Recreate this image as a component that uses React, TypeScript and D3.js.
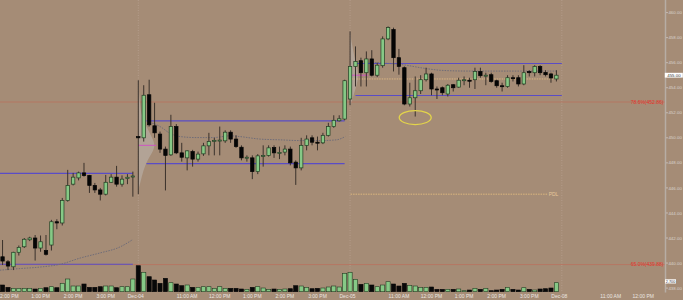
import React from "react";
import * as d3 from "d3";

const W = 683;
const H = 300;

// ---- candle data: index 0 = Dec-03 11:50 bar (10-minute bars) ----
const opens = [
  440.5, 440.1, 439.7, 440.86, 441.3, 441.86, 442.0, 441.2, 441.0, 441.44, 443.3, 443.2, 445.0, 446.3, 446.8, 447.2, 447.0, 446.2, 445.84, 445.5, 446.45, 446.86, 446.3, 446.75, 446.9,
  450.1, 450.0, 453.44, 450.96, 450.3, 449.1, 448.64, 450.9, 448.8, 448.4, 448.9, 448.3, 448.72, 449.36, 449.74, 449.8, 449.76, 450.45, 449.9, 449.25, 448.4, 448.4, 447.3, 448.56, 448.6, 449.22, 448.8, 448.86, 449.1, 448.06, 447.6, 449.4, 450.0, 449.65, 449.6, 450.2, 450.9, 451.36, 451.5,
  453.1, 455.7, 456.16, 455.2, 456.3, 455.0, 455.76, 457.9, 458.64, 456.4, 455.6, 452.7, 453.2, 453.76, 454.64, 455.1, 453.9, 454.0, 453.5, 454.24, 454.05, 454.6, 454.6, 454.64, 455.3, 454.98, 455.04, 454.56, 454.16, 454.1, 454.8, 454.8, 454.3, 455.3, 455.2, 455.7, 455.22, 455.1, 454.7,
];
const highs = [
  441.84, 440.24, 440.9, 441.4, 442.0, 442.1, 442.24, 442.2, 442.24, 443.45, 443.5, 445.2, 447.44, 447.2, 447.3, 448.0, 447.04, 446.4, 446.0, 447.04, 447.1, 447.76, 447.0, 447.1, 447.3,
  454.6, 454.2, 454.64, 452.8, 450.5, 449.3, 451.84, 451.1, 449.6, 449.0, 449.04, 448.9, 449.6, 450.4, 450.0, 450.9, 450.6, 450.6, 450.2, 449.4, 448.6, 448.6, 448.7, 449.4, 449.4, 449.4, 449.3, 449.4, 449.3, 448.2, 450.0, 450.2, 450.2, 450.1, 450.4, 451.2, 451.8, 451.8, 454.64,
  458.5, 457.3, 456.4, 456.9, 457.0, 456.0, 458.1, 458.9, 458.8, 457.1, 455.7, 454.4, 454.9, 455.0, 455.6, 455.2, 454.1, 454.1, 454.3, 454.3, 454.8, 454.9, 454.8, 455.6, 455.6, 455.2, 455.2, 454.64, 454.4, 455.0, 455.0, 455.0, 455.8, 455.4, 455.8, 455.8, 455.4, 455.2, 455.4,
];
const lows = [
  439.84, 439.44, 439.44, 440.6, 441.2, 441.75, 440.2, 440.9, 440.6, 441.0, 442.7, 443.0, 444.9, 446.2, 446.6, 446.9, 445.6, 445.6, 445.0, 445.4, 446.4, 446.1, 446.1, 446.3, 445.3,
  445.5, 449.7, 450.9, 450.0, 448.8, 445.8, 448.56, 448.7, 448.1, 447.4, 447.7, 448.1, 448.56, 448.6, 448.6, 448.6, 449.6, 449.6, 449.2, 448.2, 448.1, 446.7, 447.1, 447.7, 448.5, 448.4, 448.3, 448.6, 447.8, 446.24, 447.4, 449.0, 449.4, 449.0, 449.5, 450.1, 450.8, 451.3, 451.4,
  452.6, 454.1, 454.1, 454.1, 454.9, 454.85, 455.6, 457.8, 455.3, 455.04, 452.6, 452.5, 451.7, 453.5, 454.5, 453.4, 453.1, 453.4, 453.3, 453.7, 454.0, 454.2, 454.0, 453.9, 454.8, 454.2, 454.4, 454.0, 453.7, 454.0, 454.5, 454.1, 454.2, 454.9, 454.9, 455.0, 454.9, 454.4, 454.5,
];
const closes = [
  440.16, 439.76, 440.86, 441.25, 441.9, 442.0, 441.2, 441.7, 440.7, 443.3, 443.2, 445.0, 446.2, 446.86, 447.2, 446.98, 446.2, 445.84, 445.5, 446.45, 446.86, 446.3, 446.7, 446.85, 446.95,
  450.0, 453.4, 451.04, 450.4, 449.1, 448.6, 450.9, 448.8, 448.45, 448.96, 448.3, 448.7, 449.36, 449.7, 449.8, 449.82, 450.45, 449.9, 449.3, 448.4, 448.45, 447.3, 448.56, 448.6, 449.2, 448.8, 448.84, 449.1, 448.0, 447.6, 449.4, 449.9, 449.65, 449.62, 450.2, 450.9, 451.4, 451.52, 454.56,
  455.7, 456.1, 455.2, 456.3, 455.0, 455.8, 457.9, 458.8, 456.4, 455.7, 452.7, 453.2, 453.76, 454.64, 455.1, 453.9, 453.86, 453.6, 454.2, 454.0, 454.6, 454.64, 454.58, 455.3, 454.96, 455.0, 454.5, 454.16, 454.14, 454.8, 454.76, 454.3, 455.2, 455.2, 455.7, 455.2, 455.04, 454.78, 455.0,
];
const volumes = [
  2010, 1320, 1020, 1020, 1020, 1020, 810, 1020, 1200, 1500, 1200, 2520, 3810, 1710, 1710, 2310, 1320, 1320, 1500, 1710, 1710, 1200, 1500, 1500, 3810,
  7800, 5820, 4500, 3510, 2520, 4020, 2700, 2310, 1800, 2010, 1320, 1320, 1500, 1500, 1020, 1500, 1020, 1020, 1020, 810, 720, 1320, 1500, 1110, 720, 810, 720, 810, 900, 1800, 1710, 1320, 900, 1020, 1110, 1410, 1710, 1410, 5520,
  5820, 3720, 2220, 2520, 2010, 1500, 2010, 3000, 2310, 1710, 2520, 1920, 1710, 1320, 1320, 1410, 720, 720, 720, 720, 810, 300, 510, 1020, 720, 1020, 300, 510, 720, 1320, 720, 510, 1200, 720, 510, 810, 900, 1110, 2700,
];

// ---- axes ----
const timeTickIndex = [1, 7, 13, 19, 25, 34, 40, 46, 52, 58, 64, 73, 79, 85, 91, 97, 103, 112, 118];
const timeTickLabel = ["12:00 PM", "1:00 PM", "2:00 PM", "3:00 PM", "Dec-04", "11:00 AM", "12:00 PM", "1:00 PM", "2:00 PM", "3:00 PM", "Dec-05", "11:00 AM", "12:00 PM", "1:00 PM", "2:00 PM", "3:00 PM", "Dec-08", "11:00 AM", "12:00 PM"];
const dayStartIndex = [25, 64, 103];
const priceTicks = [438, 440, 442, 444, 446, 448, 450, 452, 454, 456, 458, 460];

// ---- overlays ----
const rangeStart = [-0.5, 26.5, 65];
const rangeEnd = [24, 63, 103];
const rangeHigh = [447.16, 451.35, 455.94];
const rangeLow = [439.9, 447.94, 453.38];

const vwapDec03 = [[-0.5, 439.43], [3.2, 439.56], [6.9, 439.68], [10.6, 439.9], [14.3, 440.4], [17.9, 440.8], [21.6, 441.28], [24, 441.88]];
const vwapDec04 = [[26.8, 450.9], [27.5, 451.16], [29, 450.9], [30.8, 450.37], [32.7, 450.1], [35.8, 450.02], [38.8, 450.02], [41.9, 450.16], [43.7, 450.1], [47.4, 449.9], [51.1, 449.84], [54.8, 449.78], [58.5, 449.78], [61.5, 449.84], [63.1, 450.1]];
const vwapDec05 = [[65.1, 456.08], [70.1, 455.97], [73.7, 455.84], [77.4, 455.57], [81.1, 455.38], [86.1, 455.33], [102.1, 455.33]];

const fibPrices = [452.86, 439.88];
const fibLabels = ["78.6%(452.86)", "65.0%(439.88)"];

const pdlPrice = 445.5;
const pdlStart = 64.1;
const pdlEnd = 100.3;
const pdlLabel = "PDL";

const refPrice = 454.7;
const refStart = 64.3;
const refEnd = 101.4;

const openMarkPrice = [449.4, 455.0];
const openMarkStart = [25, 64.3];
const openMarkEnd = [28.3, 67.3];

const profileDec04 = [[454.6, 0], [452.8, 1.5], [451.8, 3], [450.9, 8], [450.0, 14], [449.4, 17], [448.8, 14], [448.2, 9], [447.4, 5], [446.4, 2], [445.8, 0]];
const profileDec05 = [[458.5, 0], [457.4, 2], [456.2, 5], [455.4, 8], [454.6, 8], [453.8, 5], [453.0, 2], [452.6, 0]];

const markIndex = 76;
const markPrice = 451.7;

// ---- scales ----
const x = d3.scaleLinear().domain([0, 122]).range([2.55, 665]);
const y = d3.scaleLinear().domain([438, 460]).range([288.1, 12.6]);
const yv = d3.scaleLinear().domain([0, 9000]).range([291.7, 261.7]);
const profW = d3.scaleLinear().domain([0, 17]).range([0, 17]);

const BG = "#a58c76";
const GREEN = "#86c986";
const GREEN_EDGE = "#223c22";
const WICK = "#3a312b";
const BLUE = "#5a4cc6";
const FONT = "'Liberation Sans', Arial, sans-serif";

export default function App() {
  const n = closes.length;
  const idx = d3.range(n);
  const vwapLine = d3.line<number[]>().x((d) => x(d[0])).y((d) => y(d[1])).curve(d3.curveMonotoneX);

  const profileArea = (data: number[][], baseIdx: number) =>
    d3
      .area<number[]>()
      .y((d) => y(d[0]))
      .x0(() => x(baseIdx))
      .x1((d) => x(baseIdx) + profW(d[1]))
      .curve(d3.curveBasis)(data) || "";

  const lastClose = closes[n - 1];
  const lastVol = volumes[n - 1];

  return (
    <svg
      width={W}
      height={H}
      style={{ position: "absolute", left: 0, top: 0, display: "block" }}
      fontFamily={FONT}
    >
      <rect x={0} y={0} width={W} height={H} fill={BG} />

      {/* fib lines */}
      {fibPrices.map((p, k) => (
        <line key={"fib" + k} x1={0} x2={x(122)} y1={y(p)} y2={y(p)} stroke="#b9725e" strokeWidth={0.8} />
      ))}

      {/* day separators */}
      {dayStartIndex.map((d, k) => (
        <line key={"sep" + k} x1={x(d)} x2={x(d)} y1={0} y2={292} stroke="#b9a190" strokeWidth={0.8} strokeDasharray="1,1.5" />
      ))}

      {/* volume profile shading */}
      <path d={profileArea(profileDec04, dayStartIndex[0])} fill="#bdb6b0" opacity={0.55} />
      <path d={profileArea(profileDec05, dayStartIndex[1])} fill="#bdb6b0" opacity={0.55} />

      {/* volume bars */}
      {idx.map((i) => {
        const up = closes[i] > opens[i];
        const flat = closes[i] === opens[i];
        return (
          <rect
            key={"v" + i}
            x={x(i) - 2.1}
            y={yv(volumes[i])}
            width={4.2}
            height={yv(0) - yv(volumes[i])}
            fill={flat ? "#6c6c6c" : up ? GREEN : "#080808"}
            stroke={up ? GREEN_EDGE : "#080808"}
            strokeWidth={0.6}
          />
        );
      })}

      {/* opening range lines */}
      {rangeStart.map((s, k) => (
        <g key={"rng" + k}>
          <line x1={x(s)} x2={x(rangeEnd[k])} y1={y(rangeHigh[k])} y2={y(rangeHigh[k])} stroke={BLUE} strokeWidth={1.1} />
          <line x1={x(s)} x2={x(rangeEnd[k])} y1={y(rangeLow[k])} y2={y(rangeLow[k])} stroke={BLUE} strokeWidth={1.1} />
        </g>
      ))}

      {/* vwap dotted */}
      {[vwapDec03, vwapDec04, vwapDec05].map((v, k) => (
        <path key={"vw" + k} d={vwapLine(v) || ""} fill="none" stroke="#6f6c78" strokeWidth={1} strokeDasharray="1.5,1.2" />
      ))}

      {/* PDL */}
      <line x1={x(pdlStart)} x2={x(pdlEnd)} y1={y(pdlPrice)} y2={y(pdlPrice)} stroke="#dcb77e" strokeWidth={1} strokeDasharray="1.5,1" />
      <text x={x(pdlEnd) + 1.5} y={y(pdlPrice) + 1.8} fontSize={5} fill="#e6c79a">{pdlLabel}</text>

      {/* reference dotted */}
      <line x1={x(refStart)} x2={x(refEnd)} y1={y(refPrice)} y2={y(refPrice)} stroke="#e2bb86" strokeWidth={0.9} strokeDasharray="1.5,1" />

      {/* open marks */}
      {openMarkPrice.map((p, k) => (
        <line key={"om" + k} x1={x(openMarkStart[k])} x2={x(openMarkEnd[k])} y1={y(p)} y2={y(p)} stroke="#d24cc8" strokeWidth={0.9} />
      ))}

      {/* wicks */}
      {idx.map((i) => (
        <line key={"w" + i} x1={x(i)} x2={x(i)} y1={y(highs[i])} y2={y(lows[i])} stroke={WICK} strokeWidth={1} />
      ))}
      {/* bodies */}
      {idx.map((i) => {
        const up = closes[i] >= opens[i];
        const top = y(Math.max(opens[i], closes[i]));
        const bot = y(Math.min(opens[i], closes[i]));
        const h = Math.max(1, bot - top);
        return (
          <rect
            key={"b" + i}
            x={x(i) - 1.7}
            y={top}
            width={3.4}
            height={h}
            fill={up ? GREEN : "#050505"}
            stroke={up ? GREEN_EDGE : "#050505"}
            strokeWidth={0.7}
          />
        );
      })}

      {/* highlight ellipse */}
      <ellipse cx={x(markIndex)} cy={y(markPrice) + 1} rx={16} ry={7} fill="none" stroke="#e3d44a" strokeWidth={1.3} />

      {/* fib labels */}
      {fibPrices.map((p, k) => (
        <text key={"fl" + k} x={663.5} y={y(p) + 1.8} fontSize={5} fill="#e3332a" textAnchor="end">
          {fibLabels[k]}
        </text>
      ))}

      {/* price axis */}
      <line x1={665.5} x2={665.5} y1={0} y2={292.5} stroke="#b7ada5" strokeWidth={1.5} />
      {priceTicks.map((p) => (
        <g key={"pt" + p}>
          <line x1={666} x2={668} y1={y(p)} y2={y(p)} stroke="#d2ccc6" strokeWidth={0.7} />
          <text x={668.4} y={y(p) + 1.6} fontSize={4.4} fill="#d8d3ce">{d3.format(".2f")(p)}</text>
        </g>
      ))}
      <rect x={664.8} y={y(lastClose) - 2.4} width={18} height={4.8} fill="#ffffff" />
      <text x={667.2} y={y(lastClose) + 1.6} fontSize={4.4} fill="#333">{d3.format(".2f")(lastClose)}</text>
      <rect x={665} y={yv(lastVol) - 3.4} width={11} height={4.2} fill="#ffffff" />
      <text x={665.8} y={yv(lastVol) - 0.1} fontSize={3.8} fill="#333">{d3.format(",")(lastVol)}</text>

      {/* time axis */}
      {timeTickIndex.map((t, k) => {
        const isDay = dayStartIndex.indexOf(t) >= 0;
        return (
          <text key={"tt" + k} x={x(t) + (isDay ? -2.5 : 0)} y={298} fontSize={5} fill="#ebe6e1" textAnchor="middle">
            {timeTickLabel[k]}
          </text>
        );
      })}
    </svg>
  );
}
